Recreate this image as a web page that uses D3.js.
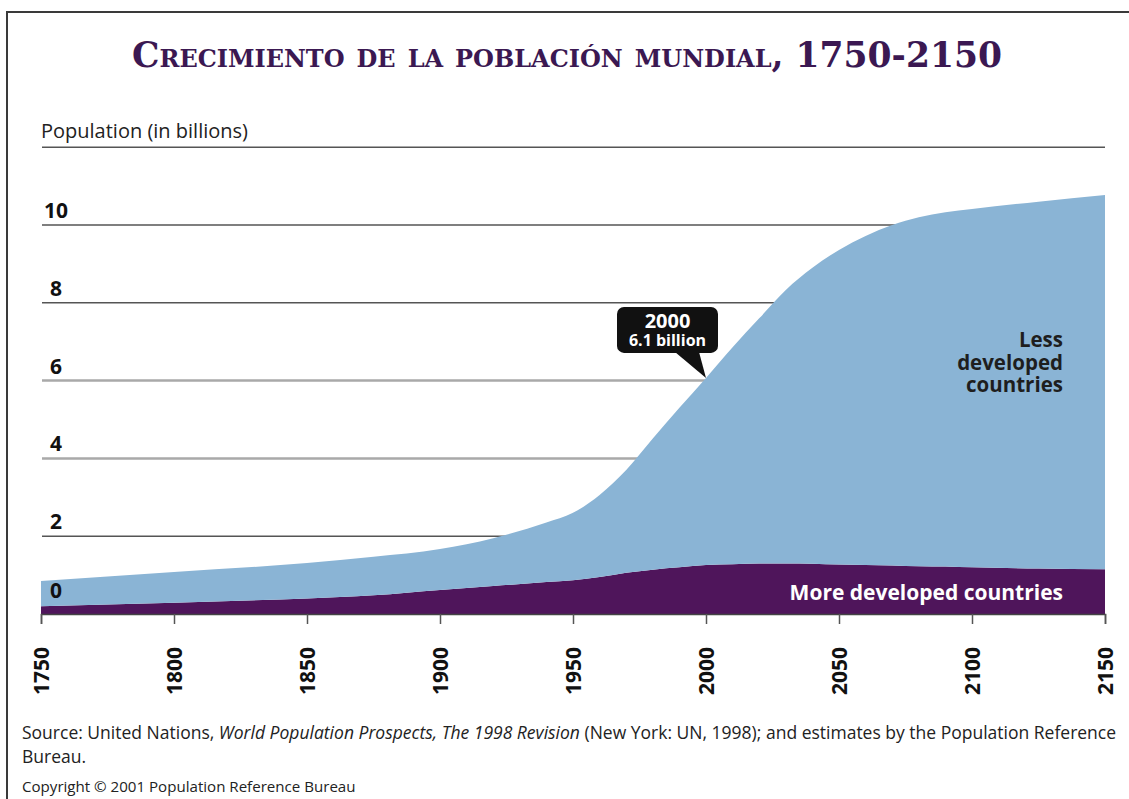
<!DOCTYPE html>
<html>
<head>
<meta charset="utf-8">
<script src="https://cdn.jsdelivr.net/npm/d3@7"></script>
<style>
  body { margin: 0; background: #fff; }
  svg { display: block; }
</style>
</head>
<body>
<div class="d3"></div>
<script>
// values (billions)
const years = [1750, 1800, 1850, 1875, 1900, 1920, 1940, 1950, 1960, 1970, 1980, 1990, 2000,
               2010, 2020, 2030, 2040, 2050, 2060, 2070, 2080, 2090, 2100, 2125, 2150];
const moreDeveloped = [0.20, 0.29, 0.40, 0.48, 0.62, 0.72, 0.82, 0.87, 0.95, 1.06, 1.14, 1.20, 1.26,
                       1.28, 1.30, 1.30, 1.29, 1.27, 1.26, 1.25, 1.23, 1.22, 1.20, 1.17, 1.15];
const lessDeveloped = [0.65, 0.79, 0.91, 0.99, 1.05, 1.23, 1.53, 1.73, 2.11, 2.64, 3.37, 4.10, 4.81,
                       5.58, 6.30, 7.03, 7.61, 8.09, 8.46, 8.75, 8.97, 9.11, 9.21, 9.43, 9.62];
const yTicks = [0, 2, 4, 6, 8, 10, 12];
const yearTicks = [1750, 1800, 1850, 1900, 1950, 2000, 2050, 2100, 2150];
const callout = { year: 2000, line1: "2000", line2: "6.1 billion" };

function main() {
    const width = 1129, height = 799;
    const svg = d3.select(".d3").append("svg")
        .attr("width", width)
        .attr("height", height);

    // frame
    svg.append("path")
        .attr("d", "M7,799 V12 H1129")
        .attr("fill", "none")
        .attr("stroke", "#3a3a3a")
        .attr("stroke-width", 2);

    svg.append("text")
        .attr("x", 567).attr("y", 67)
        .attr("text-anchor", "middle")
        .attr("font-family", "'DejaVu Serif', 'Liberation Serif', serif")
        .attr("font-weight", "bold")
        .attr("font-size", 36)
        .attr("font-variant", "small-caps")
        .attr("fill", "#3b1852")
        .attr("textLength", 870)
        .attr("lengthAdjust", "spacingAndGlyphs")
        .text("Crecimiento de la población mundial, 1750-2150");

    const x = d3.scaleLinear().domain([1750, 2150]).range([41, 1105]);
    const y = d3.scaleLinear().domain([0, 10]).range([614, 225]);

    svg.append("text")
        .attr("x", 41).attr("y", 138)
        .attr("font-family", "'Open Sans', sans-serif")
        .attr("font-size", 20)
        .attr("fill", "#222")
        .text("Population (in billions)");

    // gridlines
    svg.append("g").selectAll("line")
        .data(yTicks.filter(d => d > 0))
        .enter().append("line")
        .attr("x1", 42).attr("x2", 1105)
        .attr("y1", d => y(d)).attr("y2", d => y(d))
        .attr("stroke", d => (d === 4 || d === 6) ? "#a9a9a9" : "#555")
        .attr("stroke-width", d => (d === 4 || d === 6) ? 2.5 : 1.5);

    const table = years.map((yr, i) => ({ year: yr, more: moreDeveloped[i], less: lessDeveloped[i] }));
    const stack = d3.stack().keys(["more", "less"]);
    const series = stack(table);
    const colors = { more: "#4f155b", less: "#8ab4d5" };

    const area = d3.area()
        .x(d => x(d.data.year))
        .y0(d => y(d[0]))
        .y1(d => y(d[1]))
        .curve(d3.curveMonotoneX);

    svg.append("g").selectAll("path")
        .data(series)
        .enter().append("path")
        .attr("fill", d => colors[d.key])
        .attr("d", area);

    // x axis
    const xAxis = d3.axisBottom(x)
        .tickValues(yearTicks)
        .tickSize(10)
        .tickFormat(d3.format("d"));
    const gx = svg.append("g")
        .attr("transform", "translate(0," + y(0) + ")")
        .call(xAxis);
    gx.select(".domain").attr("stroke", "#444").attr("stroke-width", 1.5);
    gx.selectAll(".tick line").attr("stroke", "#555").attr("stroke-width", 1.5);
    gx.selectAll(".tick text")
        .attr("font-family", "'Open Sans', sans-serif")
        .attr("font-weight", "bold")
        .attr("font-size", 21)
        .attr("fill", "#111")
        .attr("text-anchor", "end")
        .attr("transform", "rotate(-90)")
        .attr("x", -33)
        .attr("y", 0)
        .attr("dy", "0.36em");

    // y labels sit above their gridlines
    svg.append("g").selectAll("text")
        .data(yTicks.filter(d => d <= 10))
        .enter().append("text")
        .attr("x", 56)
        .attr("y", d => y(d) - (d === 0 ? 16 : 7))
        .attr("text-anchor", "middle")
        .attr("font-family", "'Open Sans', sans-serif")
        .attr("font-weight", "bold")
        .attr("font-size", 21)
        .attr("fill", "#111")
        .text(d => d);

    // series labels
    const less = svg.append("text")
        .attr("text-anchor", "end")
        .attr("font-family", "'Open Sans', sans-serif")
        .attr("font-weight", "bold")
        .attr("font-size", 20.5)
        .attr("fill", "#1e1e1e");
    ["Less", "developed", "countries"].forEach((t, i) => {
        less.append("tspan").attr("x", 1063).attr("y", 347 + i * 22.5).text(t);
    });

    svg.append("text")
        .attr("x", 1063).attr("y", 600)
        .attr("text-anchor", "end")
        .attr("font-family", "'Open Sans', sans-serif")
        .attr("font-weight", "bold")
        .attr("font-size", 21)
        .attr("fill", "#fff")
        .text("More developed countries");

    // callout for 2000
    const i2000 = years.indexOf(callout.year);
    const tipX = x(callout.year);
    const tipY = y(moreDeveloped[i2000] + lessDeveloped[i2000]);
    const bx = tipX - 89, by = tipY - 71, bw = 101, bh = 46;
    const c = svg.append("g");
    c.append("rect")
        .attr("x", bx).attr("y", by)
        .attr("width", bw).attr("height", bh)
        .attr("rx", 7)
        .attr("fill", "#111");
    c.append("path")
        .attr("d", "M" + (bx + 58) + "," + (by + bh - 1) + " L" + (bx + 82) + "," + (by + bh - 1) + " L" + tipX + "," + tipY + "Z")
        .attr("fill", "#111");
    c.append("text")
        .attr("x", bx + bw / 2).attr("y", by + 21)
        .attr("text-anchor", "middle")
        .attr("font-family", "'Open Sans', sans-serif")
        .attr("font-weight", "bold")
        .attr("font-size", 20)
        .attr("fill", "#fff")
        .text(callout.line1);
    c.append("text")
        .attr("x", bx + bw / 2).attr("y", by + 39)
        .attr("text-anchor", "middle")
        .attr("font-family", "'Open Sans', sans-serif")
        .attr("font-weight", "bold")
        .attr("font-size", 16)
        .attr("fill", "#fff")
        .text(callout.line2);

    // footer
    const src = svg.append("text")
        .attr("x", 22).attr("y", 739)
        .attr("font-family", "'Open Sans', sans-serif")
        .attr("font-size", 17.5)
        .attr("fill", "#222");
    src.append("tspan").text("Source: United Nations, ");
    src.append("tspan").attr("font-style", "italic").text("World Population Prospects, The 1998 Revision");
    src.append("tspan").text(" (New York: UN, 1998); and estimates by the Population Reference");
    svg.append("text")
        .attr("x", 22).attr("y", 763)
        .attr("font-family", "'Open Sans', sans-serif")
        .attr("font-size", 17.5)
        .attr("fill", "#222")
        .text("Bureau.");
    svg.append("text")
        .attr("x", 22).attr("y", 792)
        .attr("font-family", "'Open Sans', sans-serif")
        .attr("font-size", 15.1)
        .attr("fill", "#222")
        .text("Copyright © 2001 Population Reference Bureau");
}
main();
</script>
</body>
</html>
